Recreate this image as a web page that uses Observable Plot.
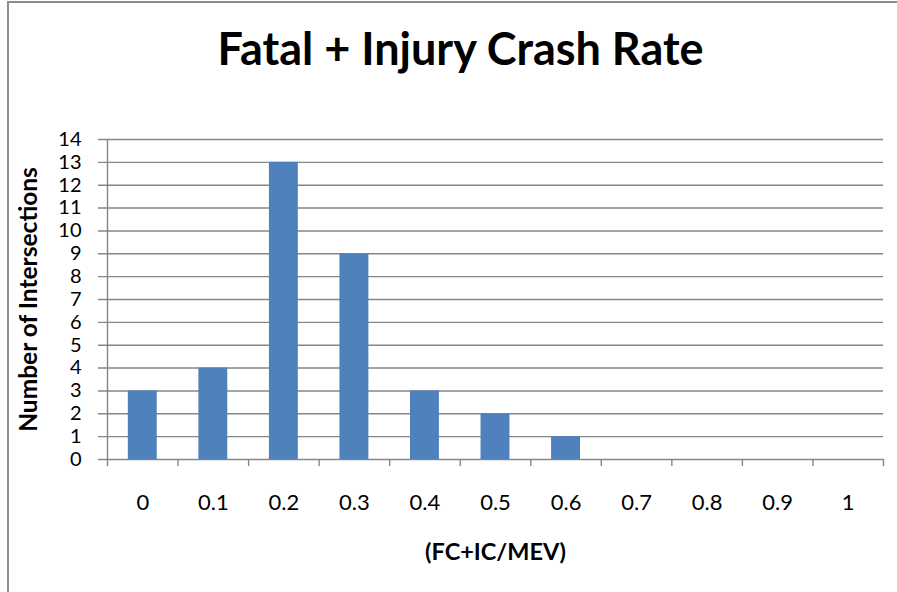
<!DOCTYPE html>
<html><head>
<meta charset="utf-8">
<script src="https://cdn.jsdelivr.net/npm/d3@7"></script>
<script src="https://cdn.jsdelivr.net/npm/@observablehq/plot@0.6"></script>
<style>
body{margin:0;background:#fff;}
#wrap{position:relative;width:897px;height:592px;overflow:hidden;}
#box{position:absolute;left:7px;top:1px;width:1000px;height:700px;border-left:2px solid #8c8c8c;border-top:2px solid #8c8c8c;}
#wrap svg{position:absolute;left:0;top:0;}
</style></head><body><div id="wrap"><div id="box"></div></div>
<script>
const rates = ["0","0.1","0.2","0.3","0.4","0.5","0.6","0.7","0.8","0.9","1"];
const counts = [3,4,13,9,3,2,1,0,0,0,0];
const yTicks = [0,1,2,3,4,5,6,7,8,9,10,11,12,13,14];
const title = "Fatal + Injury Crash Rate";
const xTitle = "(FC+IC/MEV)";
const yTitle = "Number of Intersections";

const W = 897, H = 592, mL = 107, mR = 14, mT = 139, mB = 133;
const bw = (W - mL - mR) / rates.length;
const data = rates.map((r, i) => ({rate: r, count: counts[i]}));
const gridColor = "#868686";

const plot = Plot.plot({
  width: W, height: H,
  marginLeft: mL, marginRight: mR, marginTop: mT, marginBottom: mB,
  style: {fontFamily: "Lato, 'Open Sans', sans-serif", background: "transparent", color: "#000"},
  x: {domain: rates, paddingInner: 0.59, paddingOuter: 0.295, align: 0.5, round: false, axis: null},
  y: {domain: [0, 14], axis: null},
  marks: [
    Plot.ruleY(yTicks, {y: d => d, stroke: gridColor, strokeWidth: 1.4, insetLeft: -9}),
    Plot.barY(data, {x: "rate", y: "count", fill: "#4F81BD"}),
    Plot.ruleX([rates[0]], {x: d => d, dx: -bw / 2, y1: 0, y2: 14, stroke: gridColor, strokeWidth: 1.4}),
    Plot.ruleX(rates, {x: d => d, dx: -bw / 2, y1: 0, y2: 0, insetBottom: -7, stroke: gridColor, strokeWidth: 1.4}),
    Plot.ruleX([rates[rates.length - 1]], {x: d => d, dx: bw / 2, y1: 0, y2: 0, insetBottom: -7, stroke: gridColor, strokeWidth: 1.4}),
    Plot.axisY(yTicks, {tickSize: 0, tickPadding: 26, fontSize: 20, fill: "#000", label: null}),
    Plot.axisX(rates, {tickSize: 0, tickPadding: 35, fontSize: 22, fill: "#000", label: null}),
    Plot.text([title], {frameAnchor: "top", dy: -89, dx: -35, lineAnchor: "middle", fontSize: 45, fontWeight: "bold", fill: "#000"}),
    Plot.text([xTitle], {frameAnchor: "bottom", dy: 93, lineAnchor: "middle", fontSize: 23.5, fontWeight: "bold", fill: "#000"}),
    Plot.text([yTitle], {frameAnchor: "left", dx: -78, rotate: -90, textAnchor: "middle", lineAnchor: "middle", fontSize: 24.5, fontWeight: "bold", fill: "#000"})
  ]
});
document.getElementById("wrap").appendChild(plot);
</script>
</body></html>
